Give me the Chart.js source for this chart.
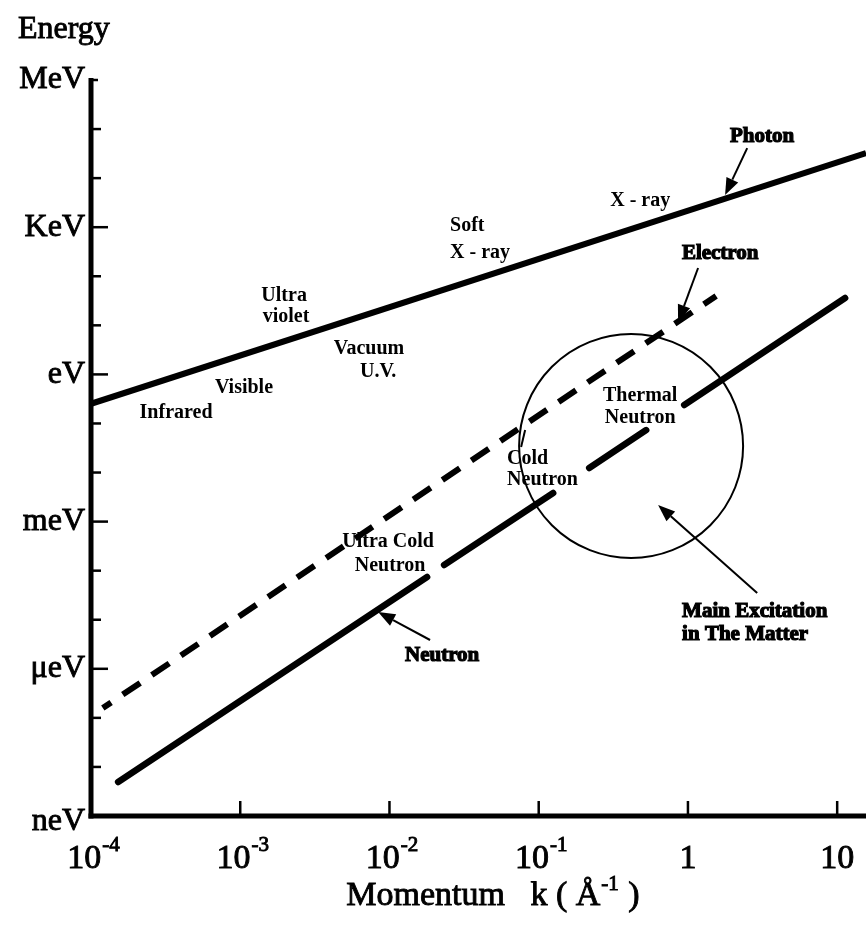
<!DOCTYPE html>
<html><head><meta charset="utf-8">
<script src="https://cdn.jsdelivr.net/npm/chart.js@4.4.1/dist/chart.umd.min.js"></script>
<style>html,body{margin:0;padding:0;background:#fff;}canvas{display:block;}</style>
</head><body>
<canvas id="c" width="866" height="928"></canvas>
<script>
// ---- tick data ----
const xTickValues = [1e-4, 1e-3, 1e-2, 1e-1, 1, 10];
const xTickBases  = ['10', '10', '10', '10', '1', '10'];
const xTickExps   = ['-4', '-3', '-2', '-1', '', ''];
const yDecadeTicks = [1e-9,1e-8,1e-7,1e-6,1e-5,1e-4,1e-3,1e-2,1e-1,1,1e1,1e2,1e3,1e4,1e5,1e6];
const yMajorValues = [1e-9, 1e-6, 1e-3, 1, 1e3, 1e6];
const yTickLabels  = ['neV', 'μeV', 'meV', 'eV', 'KeV', 'MeV'];

// ---- series (k in 1/Å, E in eV) ----
const photonK = [1e-4, 15.6];
const photonE = [0.252, 32400];
const electronK = [1.20e-4, 1.545];
const electronE = [1.59e-7, 39.5];
const neutronK = [1.52e-4, 0.01787, 0.02323, 0.125, 0.218, 0.525, 0.944, 11.3];
const neutronE = [4.93e-9, 7.43e-5, 1.30e-4, 3.82e-3, 0.01236, 0.0734, 0.2377, 36.0];
const neutronSegments = [[0, 1], [2, 3], [4, 5], [6, 7]];
const excitationK = [0.416];
const excitationE = [0.0347];

// ---- annotations (log10 k, log10 E) ----
const labelTexts = ['Photon','X - ray','Soft','X - ray','Electron','Ultra','violet','Vacuum','U.V.','Visible','Infrared',
  'Thermal','Neutron','Cold','Neutron','Ultra Cold','Neutron','Neutron','Main Excitation','in The Matter'];
const labelLogK = [0.497,-0.320,-1.594,-1.594,0.216,-2.706,-2.693,-2.137,-2.076,-2.975,-3.430,
  -0.320,-0.320,-1.212,-1.212,-2.009,-1.996,-1.647,-0.039,-0.039];
const labelLogE = [4.837,3.533,3.024,2.473,2.453,1.597,1.169,0.517,0.048,-0.278,-0.787,
  -0.441,-0.889,-1.725,-2.153,-3.416,-3.905,-5.739,-4.843,-5.311];
const labelAlign = ['center','center','left','left','center','center','center','center','center','center','center',
  'center','center','left','left','center','center','center','left','left'];
const labelHeavy = [1,0,0,0,1,0,0,0,0,0,0,0,0,0,0,0,0,1,1,1];

const arrowFromLogK = [0.397, 0.068, -1.728, 0.464];
const arrowFromLogE = [4.613, 2.168, -5.413, -4.455];
const arrowToLogK   = [0.249, -0.066, -2.076, -0.200];
const arrowToLogE   = [3.655, 1.067, -4.843, -2.662];
const leaderFrom = [-1.118, -1.480];
const leaderTo   = [-1.091, -1.134];

function pts(ks, es) { return ks.map((k, i) => ({x: k, y: es[i]})); }
function neutronData() {
  const out = [];
  neutronSegments.forEach((s, j) => {
    if (j > 0) out.push({x: Math.sqrt(neutronK[neutronSegments[j-1][1]] * neutronK[s[0]]), y: null});
    out.push({x: neutronK[s[0]], y: neutronE[s[0]]});
    out.push({x: neutronK[s[1]], y: neutronE[s[1]]});
  });
  return out;
}

const SERIF = '"Liberation Serif", "Times New Roman", serif';

const decor = {
  id: 'decor',
  afterDraw(chart) {
    const ctx = chart.ctx, xs = chart.scales.x, ys = chart.scales.y, a = chart.chartArea;
    const px = lk => xs.getPixelForValue(Math.pow(10, lk));
    const py = le => ys.getPixelForValue(Math.pow(10, le));
    ctx.save();
    ctx.strokeStyle = '#000'; ctx.fillStyle = '#000';
    // axes
    ctx.lineWidth = 5; ctx.lineCap = 'butt';
    ctx.beginPath(); ctx.moveTo(a.left, a.top - 2); ctx.lineTo(a.left, a.bottom + 2.5); ctx.stroke();
    ctx.beginPath(); ctx.moveTo(a.left - 2.5, a.bottom); ctx.lineTo(a.right, a.bottom); ctx.stroke();
    // y ticks
    ctx.lineWidth = 2.5;
    yDecadeTicks.forEach(v => {
      const y = ys.getPixelForValue(v);
      const major = yMajorValues.includes(v);
      let len = major ? 17 : 10;
      if (v === 1e6) len = 7;
      if (v === 1e-9) return;
      ctx.beginPath(); ctx.moveTo(a.left, y); ctx.lineTo(a.left + len, y); ctx.stroke();
    });
    // x ticks
    xTickValues.forEach((v, i) => {
      if (i === 0) return;
      const x = xs.getPixelForValue(v);
      ctx.beginPath(); ctx.moveTo(x, a.bottom); ctx.lineTo(x, a.bottom - 15); ctx.stroke();
    });
    // y labels
    ctx.font = '32px ' + SERIF; ctx.textAlign = 'right'; ctx.textBaseline = 'middle';
    ctx.lineWidth = 0.9;
    yMajorValues.forEach((v, i) => {
      let y = ys.getPixelForValue(v);
      if (i === 0) y += 6;
      ctx.fillText(yTickLabels[i], a.left - 6, y);
      ctx.strokeText(yTickLabels[i], a.left - 6, y);
    });
    // Energy title
    ctx.textAlign = 'left'; ctx.font = '32px ' + SERIF;
    ctx.fillText('Energy', 18, 30); ctx.strokeText('Energy', 18, 30);
    // x labels
    ctx.textBaseline = 'alphabetic';
    xTickValues.forEach((v, i) => {
      const x = xs.getPixelForValue(v);
      ctx.font = '34px ' + SERIF; const wb = ctx.measureText(xTickBases[i]).width;
      ctx.font = '21px ' + SERIF; const we = xTickExps[i] ? ctx.measureText(xTickExps[i]).width + 2 : 0;
      const x0 = x - (wb + we) / 2 + (we ? 3 : 0);
      ctx.textAlign = 'left';
      ctx.font = '34px ' + SERIF; ctx.fillText(xTickBases[i], x0, 868); ctx.strokeText(xTickBases[i], x0, 868);
      if (we) { ctx.font = '21px ' + SERIF; ctx.fillText(xTickExps[i], x0 + wb + 1, 851); ctx.strokeText(xTickExps[i], x0 + wb + 1, 851); }
    });
    // x title
    ctx.font = '34px ' + SERIF;
    const t1 = 'Momentum   k ( Å', t2 = ' )';
    const w1 = ctx.measureText(t1).width, w2 = ctx.measureText(t2).width;
    ctx.font = '21px ' + SERIF; const ws = ctx.measureText('-1').width + 2;
    let tx = 493 - (w1 + ws + w2) / 2;
    ctx.font = '34px ' + SERIF; ctx.fillText(t1, tx, 905); ctx.strokeText(t1, tx, 905);
    ctx.font = '21px ' + SERIF; ctx.fillText('-1', tx + w1 + 1, 890); ctx.strokeText('-1', tx + w1 + 1, 890);
    ctx.font = '34px ' + SERIF; ctx.fillText(t2, tx + w1 + ws, 905); ctx.strokeText(t2, tx + w1 + ws, 905);
    // annotation labels
    ctx.textBaseline = 'middle';
    labelTexts.forEach((t, i) => {
      ctx.font = (labelHeavy[i] ? 'bold 21px ' : 'bold 20px ') + SERIF;
      ctx.textAlign = labelAlign[i];
      const x = px(labelLogK[i]), y = py(labelLogE[i]);
      ctx.fillText(t, x, y);
      if (labelHeavy[i]) { ctx.lineWidth = 1.2; ctx.strokeText(t, x, y); }
    });
    // arrows
    arrowFromLogK.forEach((_, i) => {
      const x1 = px(arrowFromLogK[i]), y1 = py(arrowFromLogE[i]);
      const x2 = px(arrowToLogK[i]), y2 = py(arrowToLogE[i]);
      const ang = Math.atan2(y2 - y1, x2 - x1);
      const hl = 17, hw = 6.5;
      const bx = x2 - hl * Math.cos(ang), by = y2 - hl * Math.sin(ang);
      ctx.lineWidth = 2;
      ctx.beginPath(); ctx.moveTo(x1, y1); ctx.lineTo(bx, by); ctx.stroke();
      ctx.beginPath();
      ctx.moveTo(x2, y2);
      ctx.lineTo(bx + hw * Math.sin(ang), by - hw * Math.cos(ang));
      ctx.lineTo(bx - hw * Math.sin(ang), by + hw * Math.cos(ang));
      ctx.closePath(); ctx.fill();
    });
    ctx.lineWidth = 2;
    ctx.beginPath(); ctx.moveTo(px(leaderFrom[0]), py(leaderFrom[1])); ctx.lineTo(px(leaderTo[0]), py(leaderTo[1])); ctx.stroke();
    ctx.restore();
  }
};

new Chart(document.getElementById('c'), {
  data: {
    datasets: [
      {type: 'line', label: 'Photon', data: pts(photonK, photonE), borderColor: '#000', borderWidth: 6,
       pointRadius: 0, borderCapStyle: 'butt', tension: 0},
      {type: 'line', label: 'Electron', data: pts(electronK, electronE), borderColor: '#000', borderWidth: 6,
       pointRadius: 0, borderDash: [21, 14], borderDashOffset: 11, borderCapStyle: 'butt', tension: 0},
      {type: 'line', label: 'Neutron', data: neutronData(), borderColor: '#000', borderWidth: 6.5,
       pointRadius: 0, spanGaps: false, borderCapStyle: 'round', tension: 0},
      {type: 'bubble', label: 'Main Excitation', data: excitationK.map((k, i) => ({x: k, y: excitationE[i], r: 112})),
       borderColor: '#000', borderWidth: 2, backgroundColor: 'rgba(0,0,0,0)'}
    ]
  },
  options: {
    responsive: false, animation: false, devicePixelRatio: 1, events: [],
    layout: {autoPadding: false, padding: {left: 91, right: 0, top: 80, bottom: 112}},
    plugins: {legend: {display: false}, tooltip: {enabled: false}},
    scales: {
      x: {type: 'logarithmic', min: 1e-4, max: 15.6, display: false},
      y: {type: 'logarithmic', min: 1e-9, max: 1e6, display: false}
    }
  },
  plugins: [decor]
});
</script>
</body></html>
